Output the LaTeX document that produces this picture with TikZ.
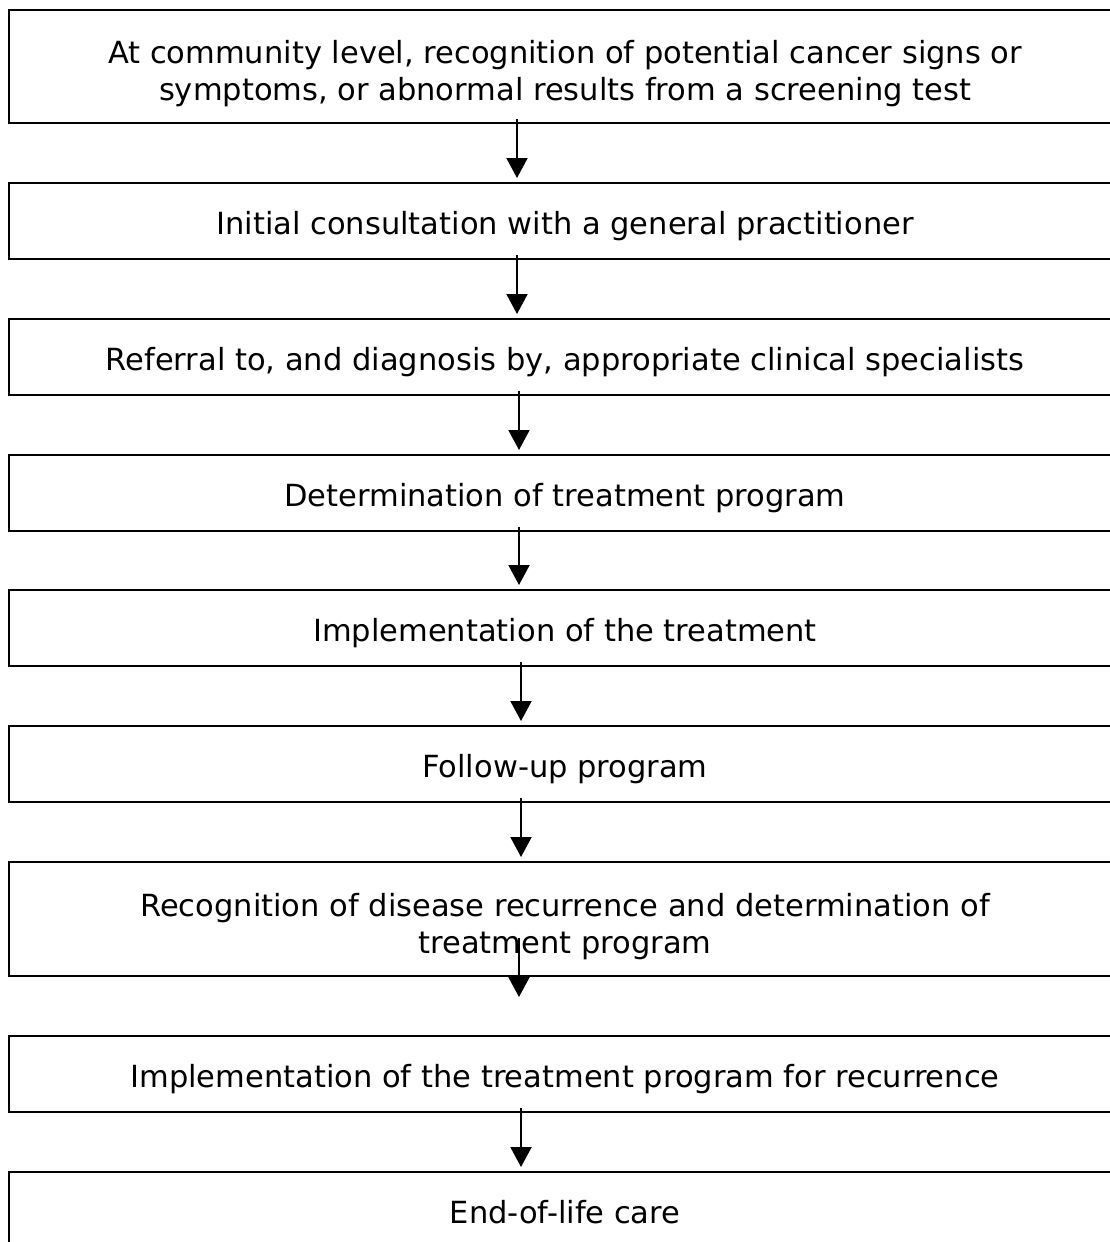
\documentclass[tikz,border=0pt]{standalone}
\usepackage{fontspec}
\setmainfont{DejaVu Sans}
\usetikzlibrary{arrows.meta}
\begin{document}
\begin{tikzpicture}[x=1pt,y=-1pt,
  box/.style={draw=black, line width=2.8pt, minimum width=1112pt, inner sep=0pt, outer sep=0pt, anchor=center},
  txt/.style={font=\fontsize{30.5}{37}\selectfont, align=center, inner sep=0pt, anchor=base},
  arr/.style={line width=2pt, -{Triangle[width=21pt,length=20pt]}}]
\useasboundingbox (0,0) rectangle (1110,1242);
\clip (0,0) rectangle (1110,1242);
\node[box, minimum height=113pt] (b1) at (565,66.5) {};
\node[box, minimum height=76pt] (b2) at (565,221) {};
\node[box, minimum height=76pt] (b3) at (565,357) {};
\node[box, minimum height=76pt] (b4) at (565,493) {};
\node[box, minimum height=76pt] (b5) at (565,628) {};
\node[box, minimum height=76pt] (b6) at (565,764) {};
\node[box, minimum height=114pt] (b7) at (565,919) {};
\node[box, minimum height=76pt] (b8) at (565,1074) {};
\node[box, minimum height=76pt] (b9) at (565,1210) {};
\node[txt] (t1) at ([yshift=-33.5pt]b1.center) {At community level, recognition of potential cancer signs or\\symptoms, or abnormal results from a screening test};
\node[txt] (t2) at ([yshift=-13pt]b2.center) {Initial consultation with a general practitioner};
\node[txt] (t3) at ([yshift=-13pt]b3.center) {Referral to, and diagnosis by, appropriate clinical specialists};
\node[txt] (t4) at ([yshift=-13pt]b4.center) {Determination of treatment program};
\node[txt] (t5) at ([yshift=-13pt]b5.center) {Implementation of the treatment};
\node[txt] (t6) at ([yshift=-13pt]b6.center) {Follow-up program};
\node[txt] (t7) at ([yshift=-34pt]b7.center) {Recognition of disease recurrence and determination of\\treatment program};
\node[txt] (t8) at ([yshift=-13pt]b8.center) {Implementation of the treatment program for recurrence};
\node[txt] (t9) at ([yshift=-13pt]b9.center) {End-of-life care};
\draw[arr] ([xshift=-48pt,yshift=4pt]b1.south) -- ([xshift=-48pt,yshift=5pt]b2.north);
\draw[arr] ([xshift=-48pt,yshift=4pt]b2.south) -- ([xshift=-48pt,yshift=5pt]b3.north);
\draw[arr] ([xshift=-46pt,yshift=4pt]b3.south) -- ([xshift=-46pt,yshift=5pt]b4.north);
\draw[arr] ([xshift=-46pt,yshift=4pt]b4.south) -- ([xshift=-46pt,yshift=5pt]b5.north);
\draw[arr] ([xshift=-44pt,yshift=4pt]b5.south) -- ([xshift=-44pt,yshift=5pt]b6.north);
\draw[arr] ([xshift=-44pt,yshift=4pt]b6.south) -- ([xshift=-44pt,yshift=5pt]b7.north);
\draw[arr] ([xshift=-46pt,yshift=38pt]b7.south) -- ([xshift=-46pt,yshift=39pt]b8.north);
\draw[arr] ([xshift=-44pt,yshift=4pt]b8.south) -- ([xshift=-44pt,yshift=5pt]b9.north);
\end{tikzpicture}
\end{document}
